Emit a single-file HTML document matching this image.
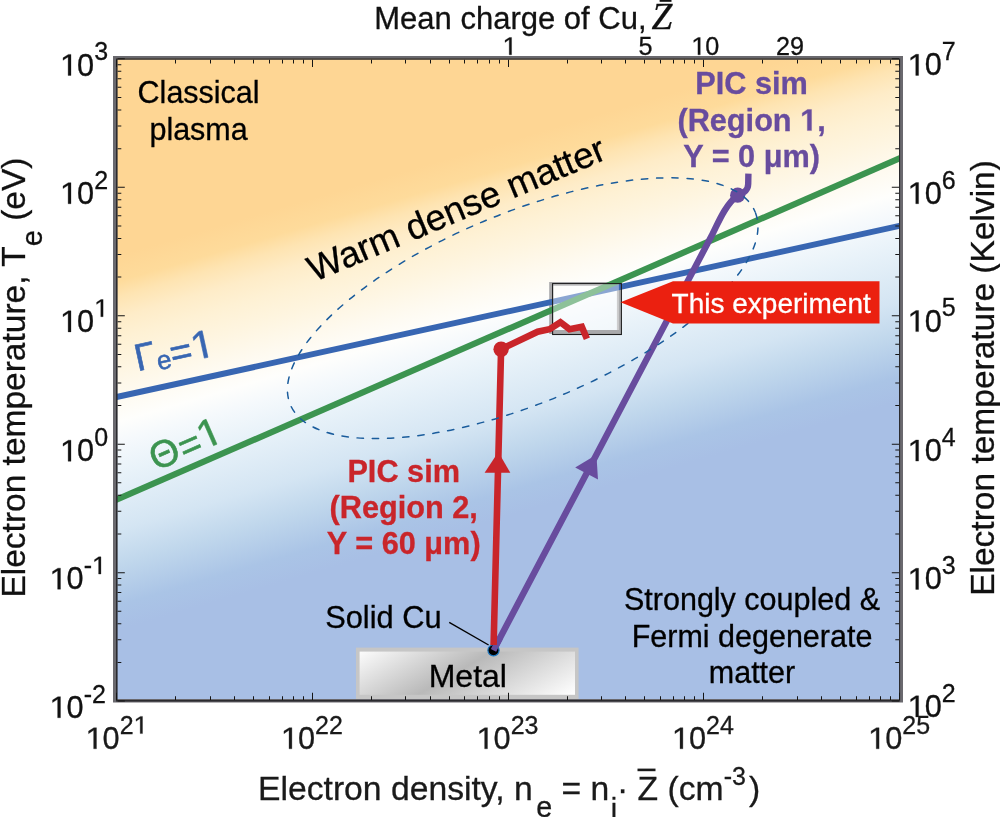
<!DOCTYPE html>
<html><head><meta charset="utf-8"><style>
html,body{margin:0;padding:0;background:#fff;width:1000px;height:817px;overflow:hidden}
svg{display:block;will-change:transform}
text{font-family:"Liberation Sans",sans-serif}
.one{fill:none;stroke:none}
</style></head><body>
<svg width="1000" height="817" viewBox="0 0 1000 817">
<defs>
<path id="g1" d="M540 0L540 1237L200 1010L200 1180L555 1409L730 1409L730 0Z"/>
<path id="g1b" d="M478 0L478 1170L140 959L140 1180L493 1409L759 1409L759 0Z"/>
<clipPath id="pc"><rect x="116" y="58.3" width="784" height="642"/></clipPath>
<linearGradient id="bg" gradientUnits="userSpaceOnUse" x1="423.2" y1="72.1" x2="563.8" y2="551.9">
<stop offset="0.18" stop-color="rgb(254,214,148)"/>
<stop offset="0.23" stop-color="rgb(254,219,155)"/>
<stop offset="0.26" stop-color="rgb(254,228,178)"/>
<stop offset="0.30" stop-color="rgb(254,236,200)"/>
<stop offset="0.34" stop-color="rgb(254,241,212)"/>
<stop offset="0.39" stop-color="rgb(254,245,224)"/>
<stop offset="0.45" stop-color="rgb(254,250,240)"/>
<stop offset="0.50" stop-color="rgb(254,254,252)"/>
<stop offset="0.54" stop-color="rgb(245,249,252)"/>
<stop offset="0.602" stop-color="rgb(232,242,249)"/>
<stop offset="0.708" stop-color="rgb(212,229,243)"/>
<stop offset="0.774" stop-color="rgb(192,215,236)"/>
<stop offset="0.852" stop-color="rgb(170,196,230)"/>
<stop offset="0.90" stop-color="rgb(168,191,229)"/>
</linearGradient>
<linearGradient id="metal" gradientUnits="userSpaceOnUse" x1="422" y1="612" x2="496" y2="740">
<stop offset="0" stop-color="#ffffff"/>
<stop offset="0.47" stop-color="#b9b9b9"/>
<stop offset="1" stop-color="#ffffff"/>
</linearGradient>
</defs>

<g clip-path="url(#pc)">
<rect x="116" y="58" width="785" height="642" fill="url(#bg)"/>
<rect x="356" y="647.6" width="222.6" height="53" fill="#c6c6c6"/>
<rect x="359.6" y="651.6" width="215.4" height="43.2" fill="url(#metal)"/>
<rect x="551.2" y="284" width="67.7" height="48" fill="none" stroke="#a9a9ab" stroke-width="4"/>
<line x1="110" y1="398.5" x2="905" y2="224.7" stroke="#3866B2" stroke-width="6"/>
<line x1="110" y1="502.6" x2="905" y2="156.0" stroke="#3C9450" stroke-width="6.2"/>
<rect x="553" y="284" width="65.9" height="46" fill="#ffffff" fill-opacity="0.42"/>
<rect x="552.6" y="283.6" width="68.8" height="50.9" fill="none" stroke="#1e1e1e" stroke-width="1.1"/>
<path d="M493.5 650.3 L712 235 C717 226 724 206 737.7 195.3 C745 192 748 190 748.2 184 L748.4 173.6" fill="none" stroke="#684C9E" stroke-width="6.4" stroke-linejoin="round"/>
<circle cx="737.7" cy="195.2" r="7.6" fill="#684C9E"/>
<polygon points="596.4,454.8 598.0,479.4 575.2,467.4" fill="#684C9E"/>
<circle cx="493.5" cy="650.3" r="5.6" fill="#000" stroke="#1e78c0" stroke-width="1.2"/>
<path d="M493.5 650.3 L500 638" stroke="#684C9E" stroke-width="6"/>
<path d="M493.6 645 L501.1 349.2 L537.7 331.7 L549.6 329.2 L560.4 322.2 L569.5 329.2 L581.8 326.8 L586.9 338.8" fill="none" stroke="#C9252A" stroke-width="6.6" stroke-linejoin="miter"/>
<circle cx="501.1" cy="349.2" r="7.7" fill="#C9252A"/>
<polygon points="498.3,451.9 510.3,472.8 484.6,472.8" fill="#C9252A"/>
<ellipse cx="522.7" cy="308.2" rx="251.6" ry="95.2" transform="rotate(-22.5 522.7 308.2)" fill="none" stroke="#1A5C9C" stroke-width="1.5" stroke-dasharray="6.3 8.9" stroke-dashoffset="13.85" stroke-linecap="round"/>
<polygon points="620.5,302.2 673,281.2 879.5,281.2 879.5,323.4 673,323.4" fill="#EB2010"/>
</g>
<line x1="449.2" y1="622.4" x2="488.6" y2="645" stroke="#000" stroke-width="1.4"/>
<path d="M113 56H903V702.5H113Z M116 58.5V699H900V58.5Z" fill="#6a696e" fill-rule="evenodd"/>
<path d="M116 58.3h784v1.5h-784z M116 58.3h1.6v643.2h-1.6z M899 58.3h1.1v643.2h-1.1z M116 700h784v1.5h-784z" fill="#2b2b2f"/>
<path d="M116 59.8h1v7.2h-1z M116 700h1v-7.2h-1zM175 59.8h1v3.7h-1z M175 700h1v-3.7h-1zM210 59.8h1v3.7h-1z M210 700h1v-3.7h-1zM234 59.8h1v3.7h-1z M234 700h1v-3.7h-1zM253 59.8h1v3.7h-1z M253 700h1v-3.7h-1zM269 59.8h1v3.7h-1z M269 700h1v-3.7h-1zM282 59.8h1v3.7h-1z M282 700h1v-3.7h-1zM293 59.8h1v3.7h-1z M293 700h1v-3.7h-1zM303 59.8h1v3.7h-1z M303 700h1v-3.7h-1zM312 59.8h1v7.2h-1z M312 700h1v-7.2h-1zM371 59.8h1v3.7h-1z M371 700h1v-3.7h-1zM405 59.8h1v3.7h-1z M405 700h1v-3.7h-1zM430 59.8h1v3.7h-1z M430 700h1v-3.7h-1zM449 59.8h1v3.7h-1z M449 700h1v-3.7h-1zM464 59.8h1v3.7h-1z M464 700h1v-3.7h-1zM477 59.8h1v3.7h-1z M477 700h1v-3.7h-1zM489 59.8h1v3.7h-1z M489 700h1v-3.7h-1zM499 59.8h1v3.7h-1z M499 700h1v-3.7h-1zM508 59.8h1v7.2h-1z M508 700h1v-7.2h-1zM567 59.8h1v3.7h-1z M567 700h1v-3.7h-1zM601 59.8h1v3.7h-1z M601 700h1v-3.7h-1zM625 59.8h1v3.7h-1z M625 700h1v-3.7h-1zM644 59.8h1v3.7h-1z M644 700h1v-3.7h-1zM660 59.8h1v3.7h-1z M660 700h1v-3.7h-1zM673 59.8h1v3.7h-1z M673 700h1v-3.7h-1zM684 59.8h1v3.7h-1z M684 700h1v-3.7h-1zM694 59.8h1v3.7h-1z M694 700h1v-3.7h-1zM703 59.8h1v7.2h-1z M703 700h1v-7.2h-1zM762 59.8h1v3.7h-1z M762 700h1v-3.7h-1zM797 59.8h1v3.7h-1z M797 700h1v-3.7h-1zM821 59.8h1v3.7h-1z M821 700h1v-3.7h-1zM840 59.8h1v3.7h-1z M840 700h1v-3.7h-1zM856 59.8h1v3.7h-1z M856 700h1v-3.7h-1zM869 59.8h1v3.7h-1z M869 700h1v-3.7h-1zM880 59.8h1v3.7h-1z M880 700h1v-3.7h-1zM890 59.8h1v3.7h-1z M890 700h1v-3.7h-1zM899 59.8h1v7.2h-1z M899 700h1v-7.2h-1zM117.6 700.6v1h7.2v-1z M899 700.6v1h-7.2v-1zM117.6 661.93v1h3.7v-1z M899 661.93v1h-3.7v-1zM117.6 639.31v1h3.7v-1z M899 639.31v1h-3.7v-1zM117.6 623.27v1h3.7v-1z M899 623.27v1h-3.7v-1zM117.6 610.82v1h3.7v-1z M899 610.82v1h-3.7v-1zM117.6 600.65v1h3.7v-1z M899 600.65v1h-3.7v-1zM117.6 592.05v1h3.7v-1z M899 592.05v1h-3.7v-1zM117.6 584.6v1h3.7v-1z M899 584.6v1h-3.7v-1zM117.6 578.03v1h3.7v-1z M899 578.03v1h-3.7v-1zM117.6 572.15v1h7.2v-1z M899 572.15v1h-7.2v-1zM117.6 533.48v1h3.7v-1z M899 533.48v1h-3.7v-1zM117.6 510.86v1h3.7v-1z M899 510.86v1h-3.7v-1zM117.6 494.82v1h3.7v-1z M899 494.82v1h-3.7v-1zM117.6 482.37v1h3.7v-1z M899 482.37v1h-3.7v-1zM117.6 472.2v1h3.7v-1z M899 472.2v1h-3.7v-1zM117.6 463.6v1h3.7v-1z M899 463.6v1h-3.7v-1zM117.6 456.15v1h3.7v-1z M899 456.15v1h-3.7v-1zM117.6 449.58v1h3.7v-1z M899 449.58v1h-3.7v-1zM117.6 443.7v1h7.2v-1z M899 443.7v1h-7.2v-1zM117.6 405.03v1h3.7v-1z M899 405.03v1h-3.7v-1zM117.6 382.41v1h3.7v-1z M899 382.41v1h-3.7v-1zM117.6 366.37v1h3.7v-1z M899 366.37v1h-3.7v-1zM117.6 353.92v1h3.7v-1z M899 353.92v1h-3.7v-1zM117.6 343.75v1h3.7v-1z M899 343.75v1h-3.7v-1zM117.6 335.15v1h3.7v-1z M899 335.15v1h-3.7v-1zM117.6 327.7v1h3.7v-1z M899 327.7v1h-3.7v-1zM117.6 321.13v1h3.7v-1z M899 321.13v1h-3.7v-1zM117.6 315.25v1h7.2v-1z M899 315.25v1h-7.2v-1zM117.6 276.58v1h3.7v-1z M899 276.58v1h-3.7v-1zM117.6 253.96v1h3.7v-1z M899 253.96v1h-3.7v-1zM117.6 237.92v1h3.7v-1z M899 237.92v1h-3.7v-1zM117.6 225.47v1h3.7v-1z M899 225.47v1h-3.7v-1zM117.6 215.3v1h3.7v-1z M899 215.3v1h-3.7v-1zM117.6 206.7v1h3.7v-1z M899 206.7v1h-3.7v-1zM117.6 199.25v1h3.7v-1z M899 199.25v1h-3.7v-1zM117.6 192.68v1h3.7v-1z M899 192.68v1h-3.7v-1zM117.6 186.8v1h7.2v-1z M899 186.8v1h-7.2v-1zM117.6 148.13v1h3.7v-1z M899 148.13v1h-3.7v-1zM117.6 125.51v1h3.7v-1z M899 125.51v1h-3.7v-1zM117.6 109.47v1h3.7v-1z M899 109.47v1h-3.7v-1zM117.6 97.02v1h3.7v-1z M899 97.02v1h-3.7v-1zM117.6 86.85v1h3.7v-1z M899 86.85v1h-3.7v-1zM117.6 78.25v1h3.7v-1z M899 78.25v1h-3.7v-1zM117.6 70.8v1h3.7v-1z M899 70.8v1h-3.7v-1zM117.6 64.23v1h3.7v-1z M899 64.23v1h-3.7v-1zM117.6 58.35v1h7.2v-1z M899 58.35v1h-7.2v-1z" fill="#151515"/>
<text x="60.04" y="75.5" font-size="30.7" fill="#111" stroke="#111" stroke-width="0.3"><tspan class="one">1</tspan>0<tspan font-size="25" dy="-15.2">3</tspan></text>
<text x="60.04" y="203.75" font-size="30.7" fill="#111" stroke="#111" stroke-width="0.3"><tspan class="one">1</tspan>0<tspan font-size="25" dy="-15.2">2</tspan></text>
<text x="60.04" y="331.9" font-size="30.7" fill="#111" stroke="#111" stroke-width="0.3"><tspan class="one">1</tspan>0<tspan font-size="25" dy="-15.2"><tspan class="one">1</tspan></tspan></text>
<text x="60.04" y="461.3" font-size="30.7" fill="#111" stroke="#111" stroke-width="0.3"><tspan class="one">1</tspan>0<tspan font-size="25" dy="-15.2">0</tspan></text>
<text x="49.54" y="589.25" font-size="30.7" fill="#111" stroke="#111" stroke-width="0.3"><tspan class="one">1</tspan>0<tspan font-size="25" dy="-15.2">-<tspan class="one">1</tspan></tspan></text>
<text x="49.54" y="717.75" font-size="30.7" fill="#111" stroke="#111" stroke-width="0.3"><tspan class="one">1</tspan>0<tspan font-size="25" dy="-15.2">-2</tspan></text>
<text x="907.64" y="75.4" font-size="30.7" fill="#111" stroke="#111" stroke-width="0.3"><tspan class="one">1</tspan>0<tspan font-size="25" dy="-15.2">7</tspan></text>
<text x="907.64" y="203.7" font-size="30.7" fill="#111" stroke="#111" stroke-width="0.3"><tspan class="one">1</tspan>0<tspan font-size="25" dy="-15.2">6</tspan></text>
<text x="907.64" y="331.6" font-size="30.7" fill="#111" stroke="#111" stroke-width="0.3"><tspan class="one">1</tspan>0<tspan font-size="25" dy="-15.2">5</tspan></text>
<text x="907.64" y="461.1" font-size="30.7" fill="#111" stroke="#111" stroke-width="0.3"><tspan class="one">1</tspan>0<tspan font-size="25" dy="-15.2">4</tspan></text>
<text x="907.64" y="589.4" font-size="30.7" fill="#111" stroke="#111" stroke-width="0.3"><tspan class="one">1</tspan>0<tspan font-size="25" dy="-15.2">3</tspan></text>
<text x="907.64" y="716.9" font-size="30.7" fill="#111" stroke="#111" stroke-width="0.3"><tspan class="one">1</tspan>0<tspan font-size="25" dy="-15.2">2</tspan></text>
<text x="85.54" y="748.8" font-size="30.7" fill="#1a1a1a" stroke="#1a1a1a" stroke-width="0.3"><tspan class="one">1</tspan>0<tspan font-size="25" dy="-15.2">2<tspan class="one">1</tspan></tspan></text>
<text x="280.94" y="748.8" font-size="30.7" fill="#1a1a1a" stroke="#1a1a1a" stroke-width="0.3"><tspan class="one">1</tspan>0<tspan font-size="25" dy="-15.2">22</tspan></text>
<text x="476.54" y="748.8" font-size="30.7" fill="#1a1a1a" stroke="#1a1a1a" stroke-width="0.3"><tspan class="one">1</tspan>0<tspan font-size="25" dy="-15.2">23</tspan></text>
<text x="671.94" y="748.8" font-size="30.7" fill="#1a1a1a" stroke="#1a1a1a" stroke-width="0.3"><tspan class="one">1</tspan>0<tspan font-size="25" dy="-15.2">24</tspan></text>
<text x="868.14" y="748.8" font-size="30.7" fill="#1a1a1a" stroke="#1a1a1a" stroke-width="0.3"><tspan class="one">1</tspan>0<tspan font-size="25" dy="-15.2">25</tspan></text>
<g font-size="25.2" fill="#111" text-anchor="middle" stroke="#111" stroke-width="0.3">
<text x="509.6" y="54.8"><tspan class="one">1</tspan></text><text x="645.5" y="54.8">5</text><text x="705.3" y="54.8"><tspan class="one">1</tspan>0</text><text x="790" y="54.8">29</text>
</g>
<text x="374.3" y="28.9" font-size="31" fill="#111" stroke="#111" stroke-width="0.3">Mean charge of Cu,</text>
<text x="651.5" y="29" font-size="37.5" font-style="italic" fill="#111" style="font-family:'Liberation Serif',serif" stroke="#111" stroke-width="0.3">Z</text>
<rect x="659.6" y="0" width="11.9" height="1.8" fill="#111"/>
<text transform="translate(24.5 595.3) rotate(-90)" x="-2.3" y="0" font-size="33.5" fill="#111" stroke="#111" stroke-width="0.3">Electron temperature, T<tspan font-size="29" dy="17.4">e</tspan><tspan dy="-17.4"> (eV)</tspan></text>
<text transform="translate(993.5 593.5) rotate(-90)" x="-2.3" y="0" font-size="33.5" fill="#111" stroke="#111" stroke-width="0.3">Electron temperature (Kelvin)</text>
<text x="258" y="800" font-size="33.7" fill="#1a1a1a" stroke="#1a1a1a" stroke-width="0.3">Electron density, n<tspan font-size="28.7" dx="3.6" dy="17">e</tspan><tspan dy="-17"> = n</tspan><tspan font-size="28.7" dx="1.3" dy="19">i</tspan><tspan dy="-19">· Z</tspan> (cm<tspan font-size="25" dy="-15">-3</tspan><tspan dx="3" dy="15">)</tspan></text>
<rect x="637.5" y="768.6" width="18" height="2.6" fill="#1a1a1a"/>
<g font-size="30.5" fill="#000" text-anchor="middle" stroke="#000" stroke-width="0.3">
<text x="198.6" y="103.3">Classical</text><text x="198.6" y="140.2">plasma</text>
<text x="752" y="609.9">Strongly coupled &amp;</text><text x="752" y="646.9">Fermi degenerate</text><text x="752" y="683.4">matter</text>
</g>
<text x="325.2" y="627.8" font-size="30.8" fill="#000" stroke="#000" stroke-width="0.3">Solid Cu</text>
<text x="467.8" y="686.8" font-size="32" fill="#000" text-anchor="middle" stroke="#000" stroke-width="0.3">Metal</text>
<text x="671.6" y="313" font-size="28" fill="#fff" stroke="#fff" stroke-width="0.3">This experiment</text>
<g font-size="30.7" font-weight="bold" text-anchor="middle">
<g fill="#684C9E" stroke="#684C9E" stroke-width="0.3"><text x="751.6" y="94">PIC sim</text><text x="751.6" y="130.6">(Region <tspan class="one">1</tspan>,</text><text x="751.6" y="167.1">Y = 0 μm)</text></g>
<g fill="#C9252A" stroke="#C9252A" stroke-width="0.3"><text x="403.7" y="482">PIC sim</text><text x="403.7" y="518">(Region 2,</text><text x="403.7" y="554.1">Y = 60 μm)</text></g>
</g>
<text transform="translate(313.9 282.3) rotate(-22.8)" font-size="36.5" fill="#000" stroke="#000" stroke-width="0.3">Warm dense matter</text>
<text transform="translate(140.5 370.5) rotate(-12.3)" x="-3" font-size="38" fill="#3866B2" stroke="#3866B2" stroke-width="0.6">Γ<tspan font-size="26" dy="3.6">e</tspan><tspan dy="-0.6">=</tspan><tspan dy="-1.5" font-size="39.5"><tspan class="one">1</tspan></tspan></text>
<text transform="translate(156 471.2) rotate(-23.6)" font-size="38" fill="#3C9450" stroke="#3C9450" stroke-width="0.6">Θ<tspan dx="0.8" dy="2.2">=</tspan><tspan dy="-2.6" font-size="39.5"><tspan class="one">1</tspan></tspan></text>
<use href="#g1" transform="translate(60.04 75.50) scale(0.01499 -0.01499)" fill="rgb(17, 17, 17)" stroke="rgb(17, 17, 17)" stroke-width="20.0"/>
<use href="#g1" transform="translate(60.04 203.75) scale(0.01499 -0.01499)" fill="rgb(17, 17, 17)" stroke="rgb(17, 17, 17)" stroke-width="20.0"/>
<use href="#g1" transform="translate(60.04 331.90) scale(0.01499 -0.01499)" fill="rgb(17, 17, 17)" stroke="rgb(17, 17, 17)" stroke-width="20.0"/>
<use href="#g1" transform="translate(94.20 316.70) scale(0.01221 -0.01221)" fill="rgb(17, 17, 17)" stroke="rgb(17, 17, 17)" stroke-width="24.6"/>
<use href="#g1" transform="translate(60.04 461.30) scale(0.01499 -0.01499)" fill="rgb(17, 17, 17)" stroke="rgb(17, 17, 17)" stroke-width="20.0"/>
<use href="#g1" transform="translate(49.54 589.25) scale(0.01499 -0.01499)" fill="rgb(17, 17, 17)" stroke="rgb(17, 17, 17)" stroke-width="20.0"/>
<use href="#g1" transform="translate(92.02 574.05) scale(0.01221 -0.01221)" fill="rgb(17, 17, 17)" stroke="rgb(17, 17, 17)" stroke-width="24.6"/>
<use href="#g1" transform="translate(49.54 717.75) scale(0.01499 -0.01499)" fill="rgb(17, 17, 17)" stroke="rgb(17, 17, 17)" stroke-width="20.0"/>
<use href="#g1" transform="translate(907.64 75.40) scale(0.01499 -0.01499)" fill="rgb(17, 17, 17)" stroke="rgb(17, 17, 17)" stroke-width="20.0"/>
<use href="#g1" transform="translate(907.64 203.70) scale(0.01499 -0.01499)" fill="rgb(17, 17, 17)" stroke="rgb(17, 17, 17)" stroke-width="20.0"/>
<use href="#g1" transform="translate(907.64 331.60) scale(0.01499 -0.01499)" fill="rgb(17, 17, 17)" stroke="rgb(17, 17, 17)" stroke-width="20.0"/>
<use href="#g1" transform="translate(907.64 461.10) scale(0.01499 -0.01499)" fill="rgb(17, 17, 17)" stroke="rgb(17, 17, 17)" stroke-width="20.0"/>
<use href="#g1" transform="translate(907.64 589.40) scale(0.01499 -0.01499)" fill="rgb(17, 17, 17)" stroke="rgb(17, 17, 17)" stroke-width="20.0"/>
<use href="#g1" transform="translate(907.64 716.90) scale(0.01499 -0.01499)" fill="rgb(17, 17, 17)" stroke="rgb(17, 17, 17)" stroke-width="20.0"/>
<use href="#g1" transform="translate(85.54 748.80) scale(0.01499 -0.01499)" fill="rgb(26, 26, 26)" stroke="rgb(26, 26, 26)" stroke-width="20.0"/>
<use href="#g1" transform="translate(133.60 733.60) scale(0.01221 -0.01221)" fill="rgb(26, 26, 26)" stroke="rgb(26, 26, 26)" stroke-width="24.6"/>
<use href="#g1" transform="translate(280.94 748.80) scale(0.01499 -0.01499)" fill="rgb(26, 26, 26)" stroke="rgb(26, 26, 26)" stroke-width="20.0"/>
<use href="#g1" transform="translate(476.54 748.80) scale(0.01499 -0.01499)" fill="rgb(26, 26, 26)" stroke="rgb(26, 26, 26)" stroke-width="20.0"/>
<use href="#g1" transform="translate(671.94 748.80) scale(0.01499 -0.01499)" fill="rgb(26, 26, 26)" stroke="rgb(26, 26, 26)" stroke-width="20.0"/>
<use href="#g1" transform="translate(868.14 748.80) scale(0.01499 -0.01499)" fill="rgb(26, 26, 26)" stroke="rgb(26, 26, 26)" stroke-width="20.0"/>
<use href="#g1" transform="translate(502.59 54.80) scale(0.01230 -0.01230)" fill="rgb(17, 17, 17)" stroke="rgb(17, 17, 17)" stroke-width="24.4"/>
<use href="#g1" transform="translate(691.28 54.80) scale(0.01230 -0.01230)" fill="rgb(17, 17, 17)" stroke="rgb(17, 17, 17)" stroke-width="24.4"/>
<use href="#g1b" transform="translate(800.17 130.60) scale(0.01499 -0.01499)" fill="rgb(104, 76, 158)" stroke="rgb(104, 76, 158)" stroke-width="20.0"/>
<g transform="translate(140.5 370.5) rotate(-12.3)"><use href="#g1" transform="translate(54.61 1.50) scale(0.01929 -0.01929)" fill="rgb(56, 102, 178)" stroke="rgb(56, 102, 178)" stroke-width="31.1"/></g>
<g transform="translate(156 471.2) rotate(-23.6)"><use href="#g1" transform="translate(52.57 -0.40) scale(0.01929 -0.01929)" fill="rgb(60, 148, 80)" stroke="rgb(60, 148, 80)" stroke-width="31.1"/></g>
</svg></body></html>
